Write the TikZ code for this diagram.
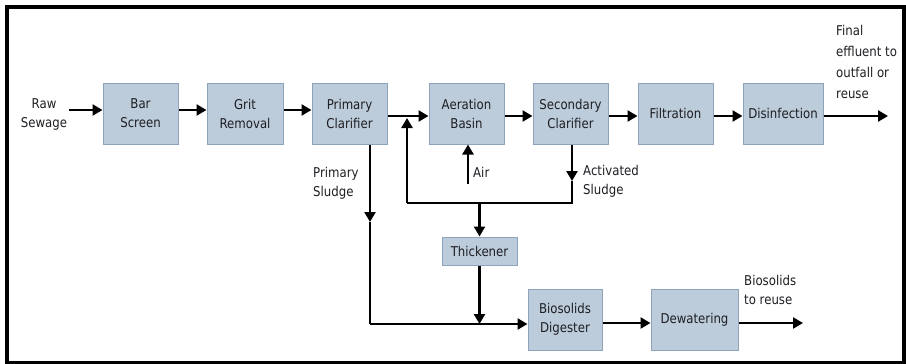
\documentclass[tikz,border=0pt]{standalone}
\usepackage{fontspec}
\setmainfont{DejaVu Sans}[FakeStretch=0.87]
\usetikzlibrary{arrows.meta}
\definecolor{boxfill}{RGB}{188,204,218}
\definecolor{boxline}{RGB}{140,163,185}
\definecolor{ink}{RGB}{30,30,35}
\begin{document}
\begin{tikzpicture}[x=1pt,y=-1pt,
  txt/.style={text=ink, font=\fontsize{13.5}{19}\selectfont},
  box/.style={txt, draw=boxline, fill=boxfill, line width=1pt, minimum width=75pt, minimum height=61pt, align=center, inner sep=1pt},
  lbl/.style={txt, align=left, inner sep=0pt},
  arr/.style={line width=2.5pt, -{Triangle[length=10pt,width=11pt]}},
  ln/.style={line width=2.2pt}]
\useasboundingbox (0,0) rectangle (906,364);
\draw[line width=3.5pt] (7,7) rectangle (904,362.5);

% process boxes
\node[box] (bar)   at (140.5,113.5) {Bar\\Screen};
\node[box, minimum width=76pt] (grit)  at (245,113.5) {Grit\\Removal};
\node[box] (prim)  at (349.5,113.5) {Primary\\Clarifier};
\node[box] (aer)   at (466.5,113.5) {Aeration\\Basin};
\node[box] (sec)   at (570.5,113.5) {Secondary\\Clarifier};
\node[box] (filt)  at (675.5,113.5) {Filtration};
\node[box, minimum width=80pt] (dis) at (783,113.5) {Disinfection};
\node[box, minimum height=28pt] (thick) at (479.5,251) {Thickener};
\node[box, minimum width=74pt] (dig) at (565,319.5) {Biosolids\\Digester};
\node[box, minimum width=87pt] (dew) at (694.5,319.5) {Dewatering};

% labels
\node[lbl, align=center] (raw) at (44,114) {Raw\\Sewage};
\node[lbl, anchor=north west, font=\fontsize{13.5}{21}\selectfont] (final) at (836,25) {Final\\effluent to\\outfall or\\reuse};
\node[lbl, anchor=west] (airl) at (473,172) {Air};
\node[lbl, anchor=west] (actl) at (583,181) {Activated\\Sludge};
\node[lbl, anchor=west] (psl) at (313,183) {Primary\\Sludge};
\node[lbl, anchor=north west] (bior) at (744,275) {Biosolids\\to reuse};

% coordinates
\coordinate (fe) at (888,116);
\coordinate (br) at (803,323);
\coordinate (j1) at (407,118);
\coordinate (l1) at (407,203);
\coordinate (l2) at (479.5,203);
\coordinate (l3) at (572,203);
\coordinate (asm) at (572,181);
\coordinate (air) at (468,184);
\coordinate (psm) at (370,222);
\coordinate (pc) at (370,324);
\coordinate (tj) at (479.5,324);

% main flow
\draw[arr] ([xshift=2pt,yshift=4pt]raw.east) -- ([yshift=3.5pt]bar.west);
\draw[arr] ([yshift=3.5pt]bar.east) -- ([yshift=3.5pt]grit.west);
\draw[arr] ([yshift=3.5pt]grit.east) -- ([yshift=3.5pt]prim.west);
\draw[arr] ([yshift=-2.5pt]prim.east) -- ([yshift=-2.5pt]aer.west);
\draw[arr] ([yshift=-2.5pt]aer.east) -- ([yshift=-2.5pt]sec.west);
\draw[arr] ([yshift=-2.5pt]sec.east) -- ([yshift=-2.5pt]filt.west);
\draw[arr] ([yshift=-2.5pt]filt.east) -- ([yshift=-2.5pt]dis.west);
\draw[arr] ([yshift=-2.5pt]dis.east) -- (fe);

% air
\draw[arr] (air) -- (aer.south -| air);

% activated sludge loop
\draw[arr] (sec.south -| l3) -- (asm);
\draw[ln] (asm) -- (l3) -- (l1);
\draw[arr] (l1) -- (j1);
\draw[arr] (l2) -- (thick.north);

% primary sludge
\draw[arr] (prim.south -| pc) -- (psm);
\draw[ln] (psm) -- (pc);
\draw[arr] (pc) -- ([yshift=-4.5pt]dig.west);
\draw[arr] (thick.south) -- (tj);

% biosolids
\draw[arr] ([yshift=-3.5pt]dig.east) -- ([yshift=-3.5pt]dew.west);
\draw[arr] ([yshift=-3.5pt]dew.east) -- (br);
\end{tikzpicture}
\end{document}
